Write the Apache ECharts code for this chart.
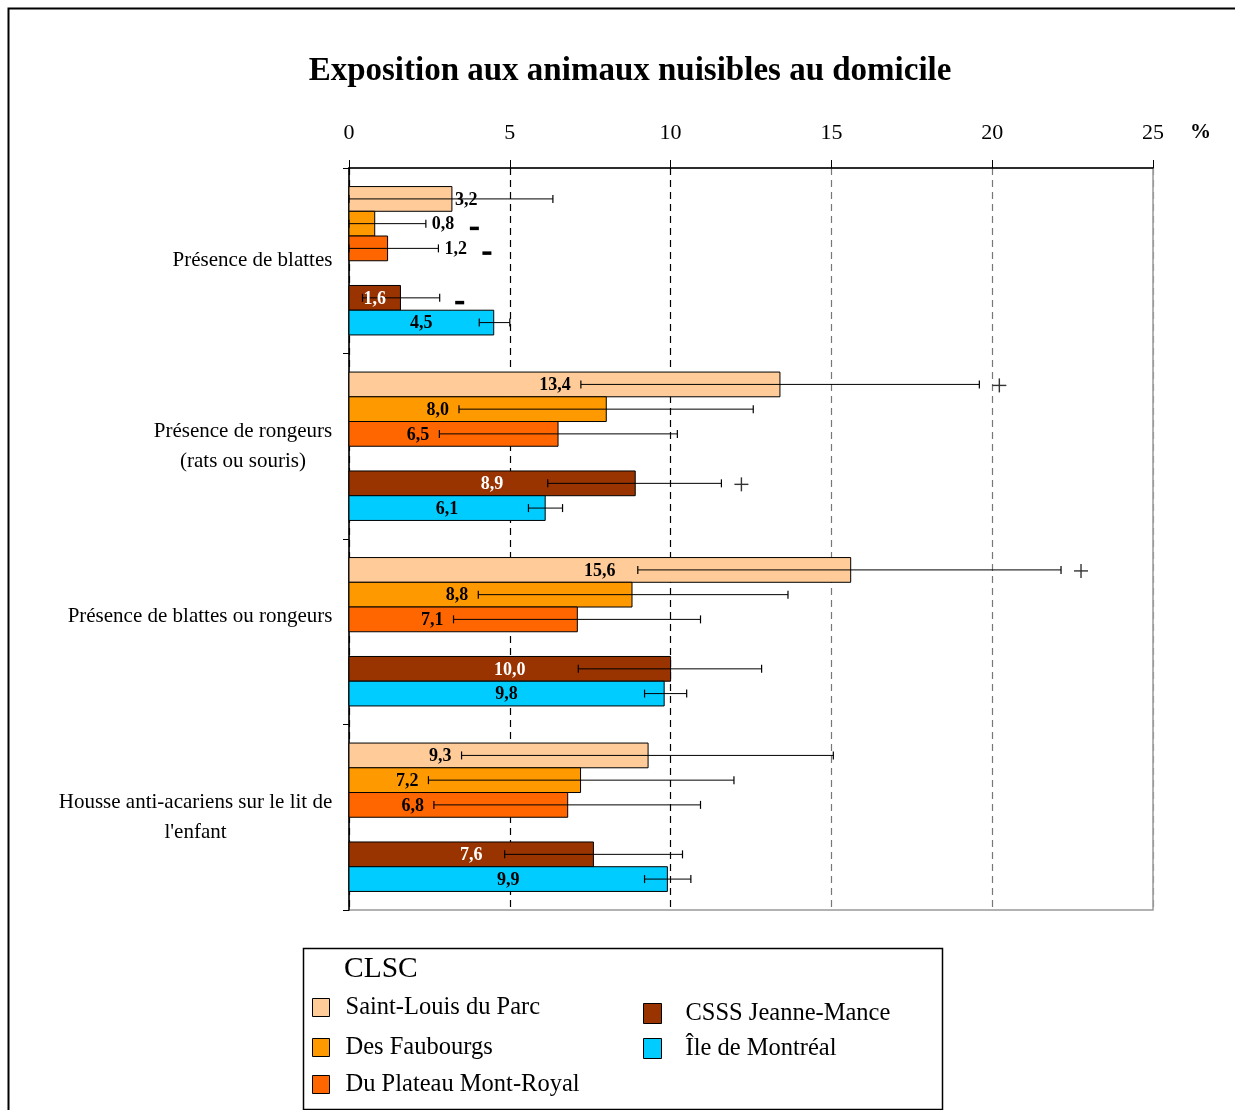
<!DOCTYPE html>
<html>
<head>
<meta charset="utf-8">
<script src="https://cdn.jsdelivr.net/npm/echarts@6/dist/echarts.min.js"></script>
<style>
html,body{margin:0;padding:0;background:#fff;}
#chart{width:1235px;height:1110px;}
</style>
</head>
<body>
<div id="chart"></div>
<script>
// ---------- DATA ----------
const titleText = 'Exposition aux animaux nuisibles au domicile';
const categories = [
  'Présence de blattes',
  'Présence de rongeurs\n(rats ou souris)',
  'Présence de blattes ou rongeurs\n ',
  "Housse anti-acariens sur le lit de\nl'enfant"
];
const xTicks = { min: 0, max: 25, interval: 5 };
const unitLabel = '%';
const legendTitle = 'CLSC';

const seriesNames = ['Saint-Louis du Parc', 'Des Faubourgs', 'Du Plateau Mont-Royal', 'CSSS Jeanne-Mance', 'Île de Montréal'];

const stLouis    = [3.2, 13.4, 15.6, 9.3];
const stLouisLo  = [0, 7.21, 8.98, 3.50];
const stLouisHi  = [6.34, 19.6, 22.14, 15.06];
const stLouisMk  = ['', '+', '+', ''];

const faubourgs   = [0.8, 8.0, 8.8, 7.2];
const faubourgsLo = [0, 3.42, 4.02, 2.47];
const faubourgsHi = [2.39, 12.57, 13.65, 11.97];
const faubourgsMk = ['-', '', '', ''];

const plateau   = [1.2, 6.5, 7.1, 6.8];
const plateauLo = [0, 2.81, 3.25, 2.64];
const plateauHi = [2.78, 10.21, 10.93, 10.93];
const plateauMk = ['-', '', '', ''];

const csss   = [1.6, 8.9, 10.0, 7.6];
const csssLo = [0.42, 6.18, 7.13, 4.84];
const csssHi = [2.82, 11.58, 12.83, 10.37];
const csssMk = ['-', '+', '', ''];

const ile   = [4.5, 6.1, 9.8, 9.9];
const ileLo = [4.05, 5.58, 9.19, 9.19];
const ileHi = [5.0, 6.64, 10.50, 10.63];
const ileMk = ['', '', '', ''];

// ---------- STYLE ----------
const SERIF = '"Liberation Serif", "Times New Roman", serif';
const colors = ['#FFCC99', '#FF9900', '#FF6600', '#993300', '#00CCFF'];
const labelColors = ['#000', '#000', '#000', '#fff', '#000'];
const slots = [0, 1, 2, 4, 5];           // slot 3 is an empty gap
const SLOTS = 6;
const labelModes = ['avoid', 'avoid', 'avoid', 'center', 'center'];
const LABEL_FONT = 'bold 18px ' + SERIF;

const measureCtx = document.createElement('canvas').getContext('2d');
function textWidth(t, font) { measureCtx.font = font; return measureCtx.measureText(t).width; }
function fmt(v) { return v.toFixed(1).replace('.', ','); }

function makeRender(k, vals, los, his, mks) {
  return function (params, api) {
    const cat = api.value(0);
    const v = api.value(1), lo = api.value(2), hi = api.value(3);
    const base = api.coord([0, cat]);
    const band = api.size([0, 1])[1];
    const barW = band * 0.8 / SLOTS;
    const yTop = base[1] - band * 0.4 + slots[k] * barW;
    const yc = yTop + barW / 2;
    const x0 = base[0];
    const xEnd = api.coord([v, cat])[0];
    const loPx = api.coord([lo, cat])[0];
    const hiPx = api.coord([hi, cat])[0];
    const children = [];
    children.push({
      type: 'rect',
      shape: { x: x0, y: yTop, width: xEnd - x0, height: barW },
      style: { fill: colors[k], stroke: '#000', lineWidth: 1 }
    });
    const cap = 4;
    children.push({ type: 'line', shape: { x1: loPx, y1: yc, x2: hiPx, y2: yc }, style: { stroke: '#000', lineWidth: 1 } });
    children.push({ type: 'line', shape: { x1: loPx, y1: yc - cap, x2: loPx, y2: yc + cap }, style: { stroke: '#000', lineWidth: 1.2 } });
    children.push({ type: 'line', shape: { x1: hiPx, y1: yc - cap, x2: hiPx, y2: yc + cap }, style: { stroke: '#000', lineWidth: 1.2 } });

    // label placement
    const txt = fmt(v);
    const tw = textWidth(txt, LABEL_FONT);
    const center = (x0 + xEnd) / 2;
    let lx, align = 'center', outside = false;
    if (labelModes[k] === 'center') {
      lx = center;
    } else if (lo > 0 && center + tw / 2 <= loPx - 9) {
      lx = center;
    } else if (lo > 0 && loPx - x0 >= tw + 14) {
      lx = loPx - 10; align = 'right';
    } else {
      outside = true; align = 'left';
      lx = (hiPx - xEnd < 80) ? hiPx + 6 : xEnd + 3;
    }
    children.push({
      type: 'text',
      z2: 10,
      style: {
        x: lx, y: yc + 1, text: txt, align: align, verticalAlign: 'middle',
        font: LABEL_FONT, fill: outside ? '#000' : labelColors[k]
      }
    });
    const labelRight = align === 'left' ? lx + tw : (align === 'right' ? lx : lx + tw / 2);
    const mk = mks[params.dataIndex];
    const mx = Math.max(hiPx, outside ? labelRight : hiPx) + 20;
    if (mk === '-') {
      children.push({ type: 'rect', shape: { x: mx - 4.5, y: yc + 3, width: 9, height: 3.5 }, style: { fill: '#000' } });
    } else if (mk === '+') {
      children.push({ type: 'line', shape: { x1: mx - 7, y1: yc + 1, x2: mx + 7, y2: yc + 1 }, style: { stroke: '#333', lineWidth: 1.4 } });
      children.push({ type: 'line', shape: { x1: mx, y1: yc - 6, x2: mx, y2: yc + 8 }, style: { stroke: '#333', lineWidth: 1.4 } });
    }
    return { type: 'group', children: children };
  };
}

const seriesData = [
  [stLouis, stLouisLo, stLouisHi, stLouisMk],
  [faubourgs, faubourgsLo, faubourgsHi, faubourgsMk],
  [plateau, plateauLo, plateauHi, plateauMk],
  [csss, csssLo, csssHi, csssMk],
  [ile, ileLo, ileHi, ileMk]
];

const series = seriesData.map(function (d, k) {
  return {
    type: 'custom',
    name: seriesNames[k],
    clip: false,
    itemStyle: { color: colors[k] },
    renderItem: makeRender(k, d[0], d[1], d[2], d[3]),
    encode: { x: [1, 2, 3], y: 0 },
    data: d[0].map(function (v, i) { return [i, v, d[1][i], d[2][i]]; })
  };
});

// category label rich styles: center lines within each label block
const CAT_SIZE = 21;
const CAT_FONT = CAT_SIZE + 'px ' + SERIF;
const rich = {};
categories.forEach(function (c, i) {
  const w = Math.max.apply(null, c.split('\n').map(function (l) { return textWidth(l, CAT_FONT); }));
  rich['c' + i] = { width: Math.ceil(w) + 1, align: 'center', fontSize: CAT_SIZE, fontFamily: SERIF, color: '#000', lineHeight: 30 };
});

const legendItems = [
  { name: seriesNames[0], left: 312, top: 995, w: 17, h: 18, pad: [4, 0, 0, 11] },
  { name: seriesNames[1], left: 312, top: 1035, w: 17, h: 18, pad: [4, 0, 0, 11] },
  { name: seriesNames[2], left: 312, top: 1072, w: 17, h: 18, pad: [4, 0, 0, 11] },
  { name: seriesNames[3], left: 643, top: 1001, w: 18, h: 20, pad: [2, 0, 0, 19] },
  { name: seriesNames[4], left: 643, top: 1036, w: 18, h: 20, pad: [0, 0, 0, 19] }
];

const option = {
  backgroundColor: '#fff',
  animation: false,
  title: {
    text: titleText,
    left: 625, top: 50, textAlign: 'center',
    textStyle: { fontFamily: SERIF, fontWeight: 'bold', fontSize: 33, color: '#000' }
  },
  legend: legendItems.map(function (it) {
    return {
      data: [it.name], left: it.left, top: it.top, padding: 0,
      icon: 'rect', itemWidth: it.w, itemHeight: it.h, selectedMode: false,
      itemStyle: { borderColor: '#000', borderWidth: 1 },
      textStyle: { fontFamily: SERIF, fontSize: 24.5, color: '#000', padding: it.pad }
    };
  }),
  grid: { left: 349, right: 82, top: 168, bottom: 200, show: true, borderColor: '#999', borderWidth: 1.5, containLabel: false },
  xAxis: {
    type: 'value', position: 'top',
    min: xTicks.min, max: xTicks.max, interval: xTicks.interval,
    axisLine: { show: true, lineStyle: { color: '#000', width: 1.5 } },
    axisTick: { show: true, inside: false, length: 8, lineStyle: { color: '#000' } },
    axisLabel: { margin: 24, fontFamily: SERIF, fontSize: 22, color: '#000' },
    splitLine: { show: true, lineStyle: { type: [7, 5], width: 1.2, color: ['#000', '#000', '#000', '#777', '#777', '#999'] } }
  },
  yAxis: {
    type: 'category', inverse: true, data: categories,
    axisLine: { show: true, lineStyle: { color: '#000', width: 1.5 } },
    axisTick: { show: true, length: 6, alignWithLabel: false, lineStyle: { color: '#000' } },
    axisLabel: {
      margin: 16, align: 'right',
      formatter: function (value, index) {
        return value.split('\n').map(function (l) { return '{c' + index + '|' + l + '}'; }).join('\n');
      },
      rich: rich
    },
    splitLine: { show: false }
  },
  graphic: [
    { type: 'rect', left: 6, top: 6, shape: { width: 1260, height: 1130 }, style: { fill: 'none', stroke: '#000', lineWidth: 2 }, silent: true, z: 100 },
    { type: 'rect', left: 301, top: 946, shape: { width: 639, height: 161 }, style: { fill: 'none', stroke: '#000', lineWidth: 1.5 }, silent: true, z: 100 },
    { type: 'text', left: 344, top: 954, style: { text: legendTitle, font: '29.5px ' + SERIF, fill: '#000' }, silent: true, z: 100 },
    { type: 'text', left: 1190, top: 122, style: { text: unitLabel, font: 'bold 21px ' + SERIF, fill: '#000' }, silent: true, z: 100 }
  ],
  series: series
};

const chart = echarts.init(document.getElementById('chart'), null, { renderer: 'canvas' });
chart.setOption(option);
</script>
</body>
</html>
